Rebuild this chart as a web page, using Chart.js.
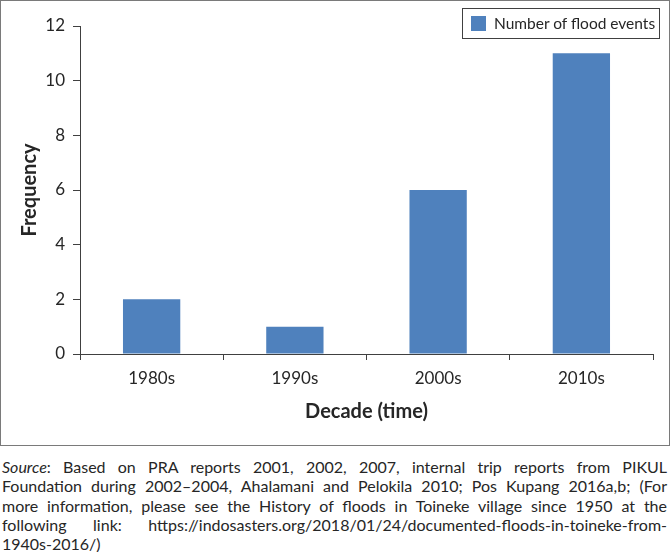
<!DOCTYPE html>
<html>
<head>
<meta charset="utf-8">
<script src="https://cdn.jsdelivr.net/npm/chart.js@4/dist/chart.umd.min.js"></script>
<style>
  body { margin: 0; background: #fff; font-family: Lato, sans-serif; color: #262626; }
  #box { position: absolute; left: 0; top: 0; width: 668px; height: 444px; border: 1px solid #7a7a7a; }
  #chart { display: block; }
  #legend { position: absolute; left: 461px; top: 7px; width: 196px; height: 29px; border: 1px solid #404040;
    font-size: 15.5px; line-height: 29px; color: #262626; }
  #legend span.sw { position: absolute; left: 8px; top: 7px; width: 15px; height: 15px; }
  #legend span.tx { position: absolute; left: 31px; top: 0; white-space: nowrap; }
  #caption { position: absolute; left: 2px; top: 457px; width: 665px; font-size: 16px; line-height: 19.3px; color: #262626; }
  #caption div { text-align: justify; text-align-last: justify; }
  #caption div.last { text-align-last: left; }
</style>
</head>
<body>
<div id="box">
  <canvas id="chart" width="668" height="444"></canvas>
  <div id="legend"><span class="sw"></span><span class="tx"></span></div>
</div>
<div id="caption">
  <div><i>Source</i>: Based on PRA reports 2001, 2002, 2007, internal trip reports from PIKUL</div>
  <div>Foundation during 2002–2004, Ahalamani and Pelokila 2010; Pos Kupang 2016a,b; (For</div>
  <div>more information, please see the History of floods in Toineke village since 1950 at the</div>
  <div>following link: https://indosasters.org/2018/01/24/documented-floods-in-toineke-from-</div>
  <div class="last">1940s-2016/)</div>
</div>
<script>
  const decades = ['1980s', '1990s', '2000s', '2010s']
  const floodEvents = [2, 1, 6, 11]
  const seriesLabel = 'Number of flood events'
  const yTicks = [0, 2, 4, 6, 8, 10, 12]

  const barColor = '#4f81bd'
  const axisColor = '#404040'
  const textColor = '#262626'

  // html legend with a border, like the original
  document.querySelector('#legend .sw').style.background = barColor
  document.querySelector('#legend .tx').textContent = seriesLabel

  new Chart(document.getElementById('chart'), {
    type: 'bar',
    data: {
      labels: decades,
      datasets: [{
        label: seriesLabel,
        data: floodEvents,
        backgroundColor: barColor,
        categoryPercentage: 1,
        barPercentage: 0.4
      }]
    },
    options: {
      responsive: false,
      animation: false,
      layout: { padding: { left: 0, right: 16, top: 25, bottom: 0 } },
      scales: {
        x: {
          grid: { display: true, drawOnChartArea: false, drawTicks: true, tickLength: 6, color: axisColor, offset: true },
          border: { display: true, color: axisColor, width: 1 },
          ticks: { color: textColor, font: { family: 'Lato', size: 17 }, padding: 8, maxRotation: 0 },
          title: { display: true, text: 'Decade (time)', color: textColor, font: { family: 'Lato', size: 20, weight: 'bold' }, padding: { top: 0, bottom: 21 } },
          afterFit: (s) => { s.height = 91 }
        },
        y: {
          min: 0,
          max: 12,
          afterBuildTicks: (s) => { s.ticks = yTicks.map((v) => ({ value: v })) },
          grid: { display: true, drawOnChartArea: false, drawTicks: true, tickLength: 7, color: axisColor },
          border: { display: true, color: axisColor, width: 1 },
          ticks: { color: textColor, font: { family: 'Lato', size: 17 }, padding: 8 },
          title: { display: true, text: 'Frequency', color: textColor, font: { family: 'Lato', size: 20, weight: 'bold' }, padding: { top: 17, bottom: 0 } },
          afterFit: (s) => { s.width = 79 }
        }
      },
      plugins: {
        legend: { display: false },
        tooltip: { enabled: false }
      }
    }
  })
</script>
</body>
</html>
